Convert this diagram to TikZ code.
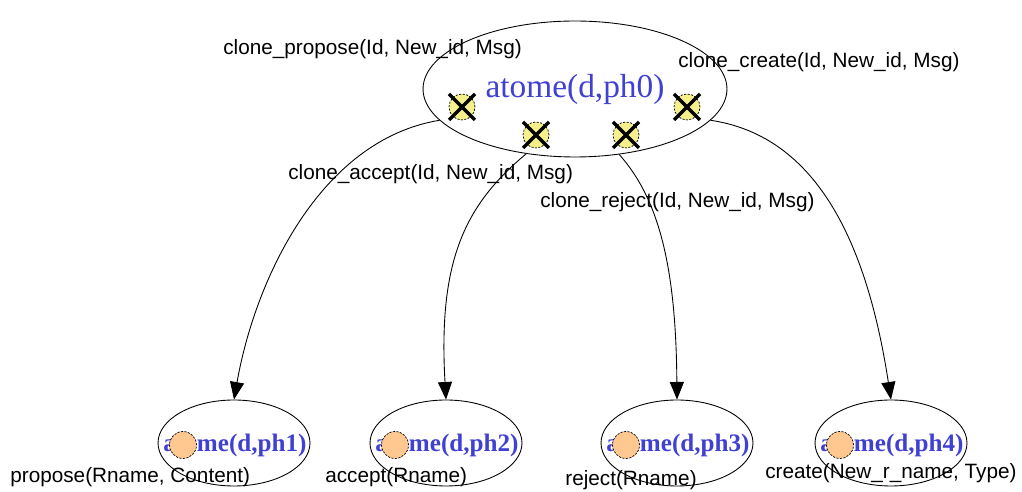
\documentclass[tikz,border=0pt]{standalone}
\usepackage{fontspec}
\setmainfont{Liberation Serif}
\setsansfont{Liberation Sans}
\usepackage{tikz}
\usetikzlibrary{calc,shapes,arrows.meta}
\definecolor{atomblue}{RGB}{64,64,210}
\definecolor{portyellow}{RGB}{245,240,140}
\definecolor{portorange}{RGB}{255,200,145}

\begin{document}
\begin{tikzpicture}[x=0.02cm,y=-0.02cm]
\tikzstyle{atm}=[draw, ellipse, inner sep = 0pt, line width = 0.5pt]
\tikzstyle{big}=[atm, minimum width = 6.08cm, minimum height = 2.72cm]
\tikzstyle{sml}=[atm, minimum width = 3.04cm, minimum height = 1.72cm]
\tikzstyle{port}=[draw, circle, fill = portyellow, minimum size = 0.52cm, inner sep = 0pt, dash pattern = on 1.2pt off 0.8pt, line width = 0.4pt]
\tikzstyle{slot}=[draw, circle, fill = portorange, minimum size = 0.54cm, inner sep = 0pt, dash pattern = on 1.2pt off 0.8pt, line width = 0.4pt]
\tikzstyle{msg}=[font = \sffamily\fontsize{11.8}{14}\selectfont, anchor = base west, inner sep = 0pt]
\tikzstyle{arr}=[-{Triangle[length = 10pt, width = 8pt]}, line width = 0.5pt]
\tikzstyle{cross}=[line width = 2pt]
\pgfmathsetmacro{\hx}{13}

\useasboundingbox (0,0) rectangle (1022,492);

\node[big] (P) at (575,89) {};
\node[text = atomblue, font = \fontsize{19}{22}\selectfont] (T) at (575,89) {atome(d,ph0)};

\foreach \i/\x/\y in {1/462/107, 2/536/135, 3/626/135, 4/687/107}{
  \node[port] (x\i) at (\x,\y) {};
  \draw[cross] (x\i) +(-\hx,-\hx) -- +(\hx,\hx) (x\i) +(-\hx,\hx) -- +(\hx,-\hx);
}

\foreach \n/\x in {1/234, 2/446, 3/677, 4/891}{
  \node[sml] (A\n) at (\x,443) {};
  \node[text = atomblue, font = \bfseries\fontsize{14.3}{16}\selectfont] (N\n) at (\x+1,445) {atome(d,ph\n)};
  \node[slot] (S\n) at (\x-51,445) {};
}

\draw[arr] (P.193) .. controls (320,140) and (255,280) .. (A1.north);
\draw[arr] (P.233) .. controls (465,205) and (438,260) .. (A2.north);
\draw[arr] (P.304) .. controls (660,200) and (676,270) .. (A3.north);
\draw[arr] (P.347) .. controls (810,135) and (865,230) .. (A4.north);

\node[msg] (L1) at (223,55) {clone\_propose(Id, New\_id, Msg)};
\node[msg] (L2) at (678,68) {clone\_create(Id, New\_id, Msg)};
\node[msg] (L3) at (288,180) {clone\_accept(Id, New\_id, Msg)};
\node[msg] (L4) at (540,208) {clone\_reject(Id, New\_id, Msg)};
\node[msg] (M1) at (10,483) {propose(Rname, Content)};
\node[msg] (M2) at (325,483) {accept(Rname)};
\node[msg] (M3) at (565,486) {reject(Rname)};
\node[msg] (M4) at (765,479) {create(New\_r\_name, Type)};
%\foreach \i in {1,...,4}{\draw[red] (A\i) -- (S\i);}
\end{tikzpicture}
\end{document}
